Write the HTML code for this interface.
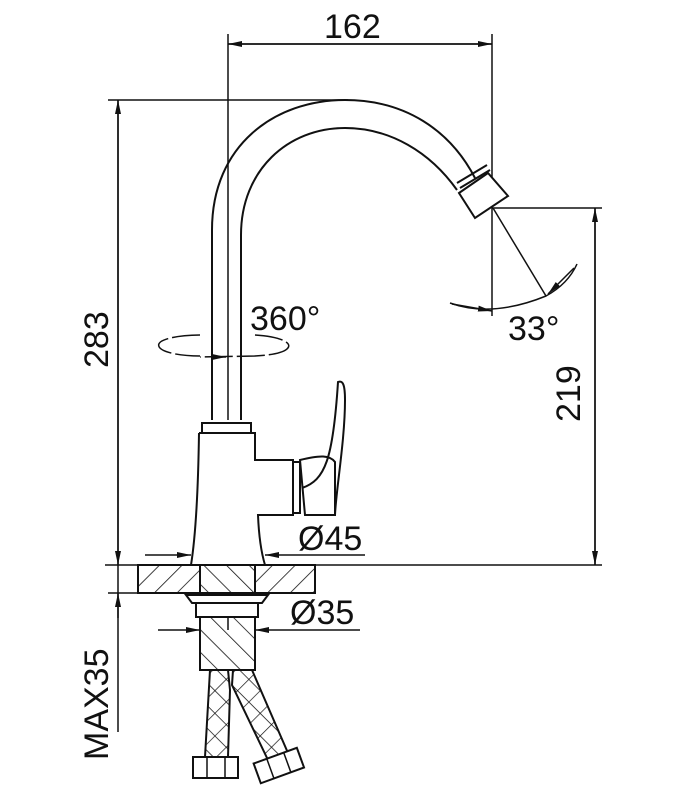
<!DOCTYPE html><html><head><style>body{margin:0;background:#fff}svg{display:block}</style></head><body>
<svg width="688" height="800" viewBox="0 0 688 800" xmlns="http://www.w3.org/2000/svg" font-family="Liberation Sans, sans-serif">
<defs>
<pattern id="h1" width="16" height="16" patternUnits="userSpaceOnUse" patternTransform="rotate(45)"><rect width="16" height="16" fill="#fff"/><line x1="0" y1="0" x2="0" y2="16" stroke="#111" stroke-width="1.6"/></pattern>
<pattern id="h2" width="16" height="16" patternUnits="userSpaceOnUse" patternTransform="rotate(-45)"><rect width="16" height="16" fill="#fff"/><line x1="0" y1="0" x2="0" y2="16" stroke="#111" stroke-width="1.6"/></pattern>
<pattern id="hx" width="16" height="16" patternUnits="userSpaceOnUse" patternTransform="rotate(45)"><rect width="16" height="16" fill="#fff"/><path d="M0 0V16M0 0H16" stroke="#111" stroke-width="1.4"/></pattern>
<marker id="a" markerWidth="14" markerHeight="8" refX="14" refY="4" orient="auto" markerUnits="userSpaceOnUse"><path d="M0 1L14 4L0 7z" fill="#111"/></marker>
</defs>
<g stroke="#111" stroke-width="1.5" fill="none">
<line x1="228" y1="34" x2="228" y2="420"/>
<line x1="492" y1="34" x2="492" y2="316"/>
<line x1="228" y1="44" x2="492" y2="44" marker-end="url(#a)"/>
<line x1="492" y1="44" x2="228" y2="44" marker-end="url(#a)"/>
<line x1="108" y1="100" x2="348" y2="100"/>
<line x1="118" y1="565" x2="118" y2="100" marker-end="url(#a)"/>
<line x1="118" y1="100" x2="118" y2="565" marker-end="url(#a)"/>
<line x1="118" y1="565" x2="118" y2="732"/>
<line x1="105" y1="565" x2="602" y2="565"/>
<line x1="108" y1="593" x2="200" y2="593"/>
<line x1="118" y1="618" x2="118" y2="593" marker-end="url(#a)"/>
<line x1="492" y1="208" x2="602" y2="208"/>
<line x1="595" y1="565" x2="595" y2="208" marker-end="url(#a)"/>
<line x1="595" y1="208" x2="595" y2="565" marker-end="url(#a)"/>
<line x1="493" y1="208" x2="546" y2="296"/>
<path d="M450 303 Q492 318 546 296 Q568 284 577 264"/>
<line x1="452" y1="304" x2="492" y2="311" marker-end="url(#a)"/>
<line x1="574" y1="268" x2="548" y2="294" marker-end="url(#a)"/>
<path d="M212 420 L212 230 C212 145 275 100 345 100 C405 100 450 130 475 178" stroke-width="2"/>
<path d="M241 420 L241 235 C241 170 288 128 345 128 C390 128 430 152 457 190" stroke-width="2"/>
<path d="M457 183 L487 165 M460 188 L490 170" stroke-width="2"/>
<path d="M459 193 L488 173 L508 196 L475 218 Z" stroke-width="2" fill="#fff"/>
<path d="M200 335 C140 336 150 356 200 356" stroke-dasharray="28 4"/>
<path d="M255 335 C300 338 300 354 255 356 L200 357" stroke-dasharray="28 4"/>
<line x1="214" y1="357" x2="226" y2="357" marker-end="url(#a)"/>
<rect x="202" y="423" width="49" height="10" stroke-width="2" fill="#fff"/>
<path d="M199 433 H255 V460 H293 V515 H258 C259 540 262 555 265 565 M199 433 C198 500 195 540 191 565" stroke-width="2"/>
<rect x="293" y="462" width="7" height="51" stroke-width="2"/>
<path d="M300 460 C320 455 330 455 335 462 L335 515 L305 515 Z" stroke-width="2"/>
<path d="M302 488 C325 480 333 460 338 382 C343 380 345 385 345 400 C345 440 336 490 335 515" stroke-width="2"/>
<line x1="145" y1="555" x2="191" y2="555" marker-end="url(#a)"/>
<line x1="365" y1="555" x2="265" y2="555" marker-end="url(#a)"/>
<rect x="138" y="565" width="177" height="28" fill="url(#h1)" stroke-width="2"/>
<rect x="200" y="565" width="55" height="28" fill="url(#h2)" stroke-width="2"/>
<path d="M186 595 H268 L262 603 H192 Z" stroke-width="2"/>
<rect x="196" y="603" width="62" height="14" stroke-width="2" fill="#fff"/>
<rect x="200" y="617" width="55" height="53" fill="url(#h2)" stroke-width="2"/>
<line x1="228" y1="617" x2="228" y2="630"/>
<line x1="158" y1="630" x2="200" y2="630" marker-end="url(#a)"/>
<line x1="360" y1="630" x2="255" y2="630" marker-end="url(#a)"/>
<path d="M210 670 L205 757 L228 757 L230 690 L228 670 Z" fill="url(#hx)" stroke-width="2"/>
<path d="M233 670 L252 670 L288 753 L268 760 L232 685 Z" fill="url(#hx)" stroke-width="2"/>
<rect x="193" y="757" width="45" height="21" fill="#fff" stroke-width="2"/>
<path d="M207 757V778M225 757V778" />
<g transform="rotate(-20 279 766)"><rect x="256" y="755" width="46" height="21" fill="#fff" stroke-width="2"/><path d="M270 755V776M288 755V776"/></g>
</g>
<g fill="#111" font-size="34">
<text x="324" y="38">162</text>
<text x="250" y="330">360°</text>
<text x="508" y="340">33°</text>
<text x="298" y="550">Ø45</text>
<text x="290" y="624">Ø35</text>
<text transform="translate(108 368) rotate(-90)">283</text>
<text transform="translate(580 422) rotate(-90)">219</text>
<text transform="translate(108 760) rotate(-90)">MAX35</text>
</g>
</svg>
</body></html>
